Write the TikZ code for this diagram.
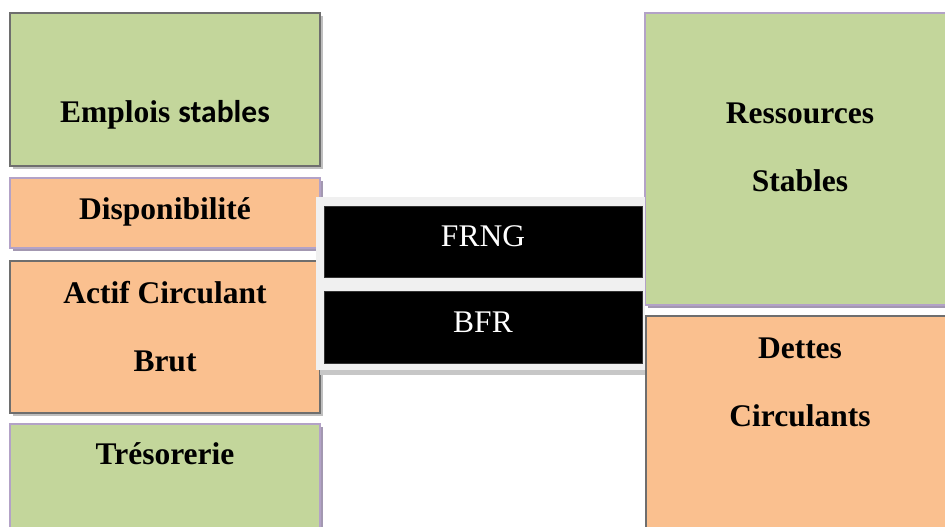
\documentclass[tikz,border=0pt]{standalone}
\usepackage{fontspec}
\setmainfont{Liberation Serif}
\newfontfamily\calib{Carlito}
\definecolor{vert}{HTML}{C3D69B}
\definecolor{orange}{HTML}{FAC08F}
\definecolor{violet}{HTML}{B3A2C7}
\definecolor{gris}{HTML}{6E6E6E}
\definecolor{panneau}{HTML}{F0F0F0}
\begin{document}
\begin{tikzpicture}[x=1pt,y=-1pt,
  boxbase/.style={rectangle, inner sep=0pt, outer sep=0pt, line width=2pt},
  gbox/.style={boxbase, fill=vert},
  obox/.style={boxbase, fill=orange},
  darkedge/.style={draw=gris},
  lightedge/.style={draw=violet},
  lbl/.style={font=\fontsize{31.5}{68}\selectfont\bfseries, align=center, inner sep=0pt},
  wlbl/.style={font=\fontsize{31.5}{38}\selectfont, text=white, inner sep=0pt},
  blackbox/.style={rectangle, inner sep=0pt, outer sep=0pt, fill=black, draw=black!80, line width=0.5pt}
]
\useasboundingbox (0,0) rectangle (945,527);
\clip (0,0) rectangle (945,527);
% shadows
\fill[black!25] (13,16) rectangle (323,169);
\fill[violet!70!gray] (13,181) rectangle (323,251);
\fill[black!25] (13,264) rectangle (323,416);
\fill[violet!70!gray] (13,427) rectangle (323,540);
\fill[violet!70!gray] (648,16) rectangle (950,308);
\fill[black!25] (649,319) rectangle (950,540);
% left boxes
\node[gbox, darkedge, minimum width=310pt, minimum height=153pt] (emp) at (165,89.5) {};
\node[obox, lightedge, minimum width=310pt, minimum height=70pt] (dis) at (165,213) {};
\node[obox, darkedge, minimum width=310pt, minimum height=152pt] (act) at (165,337) {};
\node[gbox, lightedge, minimum width=310pt, minimum height=130pt] (tre) at (165,489) {};
% right boxes
\node[gbox, lightedge, minimum width=310pt, minimum height=292pt] (res) at (800,159) {};
\node[obox, darkedge, minimum width=310pt, minimum height=230pt] (det) at (801,431) {};
% middle panel
\fill[black!22] (320,370) rectangle (645,375);
\node[rectangle, fill=panneau, inner sep=0pt, minimum width=329pt, minimum height=173pt] (pan) at (480.5,283.5) {};
\node[blackbox, minimum width=318pt, minimum height=71pt] (frng) at (483,241.5) {};
\node[blackbox, minimum width=318pt, minimum height=72pt] (bfr) at (483,327) {};
% labels
\node[lbl] (temp) at (165,115) {Emplois {\calib stables}};
\node[lbl] (tdis) at (165,212) {Disponibilité};
\node[lbl, anchor=north] (tact) at (165,281) {Actif Circulant\\Brut};
\node[lbl] (ttre) at (165,454) {Trésorerie};
\node[lbl, anchor=north] (tres) at (800,103) {Ressources\\Stables};
\node[lbl, anchor=north] (tdet) at (800,338) {Dettes\\Circulants};
\node[wlbl] (tfrng) at (483,236) {FRNG};
\node[wlbl] (tbfr) at (483,322) {BFR};
\end{tikzpicture}
\end{document}
